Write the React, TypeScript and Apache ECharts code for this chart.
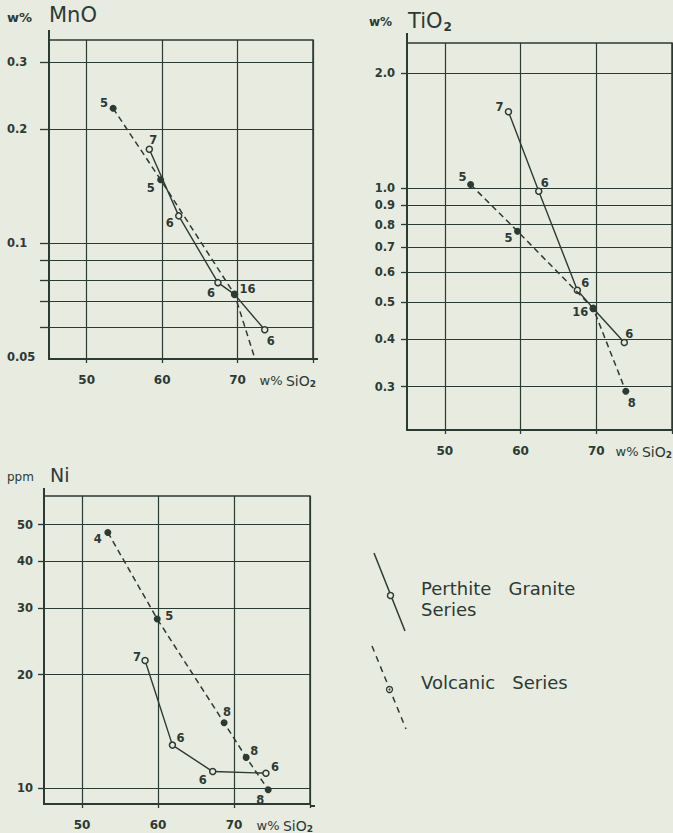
import React, { useEffect, useRef } from "react";
import * as echarts from "echarts";

// ---------- data ----------
const SIO2_TICKS = [50, 60, 70, 80];
const SIO2_LABELS = [50, 60, 70];

// MnO (w%)
const MNO_GRID = [0.3, 0.2, 0.1, 0.09, 0.08, 0.07, 0.06];
const MNO_LABEL_VALUES = [0.3, 0.2, 0.1, 0.05];
const MNO_LABEL_TEXTS = ["0.3", "0.2", "0.1", "0.05"];
const mnoGraniteSiO2 = [58.3, 62.2, 67.4, 69.6, 73.6];
const mnoGraniteMnO = [0.177, 0.118, 0.0786, 0.0732, 0.059];
const mnoGraniteN = ["7", "6", "6", "", "6"];
const mnoVolcanicSiO2 = [53.5, 59.8, 69.6, 74.5];
const mnoVolcanicMnO = [0.227, 0.147, 0.0732, 0.036];
const mnoVolcanicN = ["5", "5", "16", "8"];

// TiO2 (w%)
const TIO_GRID = [2.0, 1.0, 0.9, 0.8, 0.7, 0.6, 0.5, 0.4, 0.3];
const TIO_LABEL_VALUES = [2.0, 1.0, 0.9, 0.8, 0.7, 0.6, 0.5, 0.4, 0.3];
const TIO_LABEL_TEXTS = ["2.0", "1.0", "0.9", "0.8", "0.7", "0.6", "0.5", "0.4", "0.3"];
const tioGraniteSiO2 = [58.4, 62.4, 67.5, 69.6, 73.7];
const tioGraniteTiO2 = [1.585, 0.98, 0.538, 0.482, 0.392];
const tioGraniteN = ["7", "6", "6", "", "6"];
const tioVolcanicSiO2 = [53.4, 59.6, 69.6, 73.9];
const tioVolcanicTiO2 = [1.02, 0.769, 0.482, 0.292];
const tioVolcanicN = ["5", "5", "16", "8"];

// Ni (ppm)
const NI_GRID = [50, 40, 30, 20, 10];
const NI_LABEL_VALUES = [50, 40, 30, 20, 10];
const NI_LABEL_TEXTS = ["50", "40", "30", "20", "10"];
const niGraniteSiO2 = [58.3, 61.9, 67.2, 74.2];
const niGraniteNi = [21.8, 13.0, 11.06, 10.95];
const niGraniteN = ["7", "6", "6", "6"];
const niVolcanicSiO2 = [53.4, 59.9, 68.7, 71.6, 74.5];
const niVolcanicNi = [47.7, 28.1, 14.9, 12.06, 9.9];
const niVolcanicN = ["4", "5", "8", "8", "8"];

// ---------- styling ----------
const BG = "#e8ebe0";
const INK = "#2c3a34";
const FONT = "'DejaVu Sans', Lato, sans-serif";

// label offsets (style, kept apart from data)
const OFF_MNO_G = [[4, -9], [-9, 7], [-7, 10], [0, 0], [6, 11]];
const OFF_MNO_V = [[-9, -5], [-10, 8], [13, -5], [8, 10]];
const OFF_TIO_G = [[-9, -5], [6, -8], [8, -7], [0, 0], [5, -9]];
const OFF_TIO_V = [[-8, -8], [-9, 7], [-13, 4], [6, 12]];
const OFF_NI_G = [[-8, -4], [8, -7], [-10, 8], [9, -6]];
const OFF_NI_V = [[-10, 7], [12, -3], [3, -11], [8, -6], [-8, 10]];

const PANELS = [
  { left: 49, top: 40, width: 264, height: 319, ymin: 0.0494, ymax: 0.344, grid: MNO_GRID, lv: MNO_LABEL_VALUES, lt: MNO_LABEL_TEXTS, labelMargin: 42, labelAlign: "left", tickLen: 9, nameGap: 3, ext: 10 },
  { left: 407, top: 43, width: 265, height: 387, ymin: 0.2309, ymax: 2.403, grid: TIO_GRID, lv: TIO_LABEL_VALUES, lt: TIO_LABEL_TEXTS, labelMargin: 12, labelAlign: "right", tickLen: 6, nameGap: 0, ext: 10 },
  { left: 44, top: 496, width: 266, height: 310, ymin: 9.07, ymax: 59.6, grid: NI_GRID, lv: NI_LABEL_VALUES, lt: NI_LABEL_TEXTS, labelMargin: 11, labelAlign: "right", tickLen: 6, nameGap: 3, ext: 8 },
];

function pts(xs: number[], ys: number[], ns: string[], offs: number[][]) {
  return xs.map((x, i) => ({
    value: [x, ys[i]],
    label: { formatter: ns[i], offset: offs[i] },
  }));
}

function graniteSeries(idx: number, data: any[]) {
  return {
    type: "line",
    xAxisIndex: idx,
    yAxisIndex: idx * 2,
    data,
    symbol: "circle",
    symbolSize: 6,
    z: 3,
    lineStyle: { color: INK, width: 1.4, type: "solid" },
    itemStyle: { color: BG, borderColor: INK, borderWidth: 1.5 },
    label: { show: true, position: "inside", color: INK, fontFamily: FONT, fontWeight: "bold", fontSize: 11.5 },
    clip: true,
  };
}

function volcanicSeries(idx: number, data: any[]) {
  return {
    type: "line",
    xAxisIndex: idx,
    yAxisIndex: idx * 2,
    data,
    symbol: "circle",
    symbolSize: 7,
    z: 4,
    lineStyle: { color: INK, width: 1.5, type: [6, 4] },
    itemStyle: { color: INK, borderColor: INK, borderWidth: 0 },
    label: { show: true, position: "inside", color: INK, fontFamily: FONT, fontWeight: "bold", fontSize: 11.5 },
    clip: true,
  };
}

function buildOption() {
  const grids = PANELS.map((p) => ({
    left: p.left,
    top: p.top,
    width: p.width,
    height: p.height,
    show: true,
    borderColor: INK,
    borderWidth: 1.5,
    backgroundColor: "transparent",
  }));

  const xAxes = PANELS.map((p, i) => ({
    type: "value",
    gridIndex: i,
    min: 45,
    max: 80,
    axisLine: { show: true, onZero: false, lineStyle: { color: INK, width: 2 } },
    axisTick: { show: true, customValues: SIO2_TICKS, length: 4, lineStyle: { color: INK, width: 1.3 } },
    axisLabel: { customValues: SIO2_LABELS, color: INK, fontFamily: FONT, fontWeight: "bold", fontSize: 12, margin: 15 },
    splitLine: { show: true, lineStyle: { color: INK, width: 1.2 } },
    name: "{a|w%} {b|SiO}{s|2}",
    nameLocation: "end",
    nameGap: p.nameGap,
    nameTextStyle: {
      align: "right",
      verticalAlign: "top",
      padding: [14, 0, 0, 0],
      rich: {
        a: { color: INK, fontFamily: FONT, fontSize: 13 },
        b: { color: INK, fontFamily: FONT, fontSize: 14 },
        s: { color: INK, fontFamily: FONT, fontWeight: "bold", fontSize: 9, padding: [6, 0, 0, 0] },
      },
    },
  }));

  const yAxes: any[] = [];
  PANELS.forEach((p, i) => {
    yAxes.push({
      type: "log",
      gridIndex: i,
      min: p.ymin,
      max: p.ymax,
      position: "left",
      show: false,
    });
    yAxes.push({
      type: "value",
      gridIndex: i,
      min: Math.log10(p.ymin),
      max: Math.log10(p.ymax),
      position: "left",
      offset: 0,
      axisLine: { show: true, onZero: false, lineStyle: { color: INK, width: 2 } },
      axisTick: { show: true, customValues: p.grid.map(Math.log10), length: p.tickLen, lineStyle: { color: INK, width: 1.3 } },
      axisLabel: {
        customValues: p.lv.map(Math.log10),
        color: INK,
        fontFamily: FONT,
        fontWeight: "bold",
        fontSize: 11.5,
        margin: p.labelMargin,
        align: p.labelAlign,
        formatter: (v: number) => {
          const k = p.lv.findIndex((t) => Math.abs(Math.log10(t) - v) < 1e-4);
          return k >= 0 ? p.lt[k] : "";
        },
      },
      splitLine: { show: true, lineStyle: { color: INK, width: 1.2 } },
    });
  });

  const series = [
    graniteSeries(0, pts(mnoGraniteSiO2, mnoGraniteMnO, mnoGraniteN, OFF_MNO_G)),
    volcanicSeries(0, pts(mnoVolcanicSiO2, mnoVolcanicMnO, mnoVolcanicN, OFF_MNO_V)),
    graniteSeries(1, pts(tioGraniteSiO2, tioGraniteTiO2, tioGraniteN, OFF_TIO_G)),
    volcanicSeries(1, pts(tioVolcanicSiO2, tioVolcanicTiO2, tioVolcanicN, OFF_TIO_V)),
    graniteSeries(2, pts(niGraniteSiO2, niGraniteNi, niGraniteN, OFF_NI_G)),
    volcanicSeries(2, pts(niVolcanicSiO2, niVolcanicNi, niVolcanicN, OFF_NI_V)),
  ];

  const txt = (x: number, y: number, text: string, size: number, weight = "bold") => ({
    type: "text",
    x,
    y,
    style: { text, fill: INK, font: `${weight} ${size}px ${FONT}`, textVerticalAlign: "middle" },
  });

  // axis lines poking a little past the frame, as drawn in the original
  const axisExt: any[] = [];
  PANELS.forEach((p) => {
    axisExt.push({ type: "line", shape: { x1: p.left, y1: p.top - p.ext, x2: p.left, y2: p.top }, style: { stroke: INK, lineWidth: 2 } });
    axisExt.push({ type: "line", shape: { x1: p.left + p.width, y1: p.top + p.height, x2: p.left + p.width + 5, y2: p.top + p.height }, style: { stroke: INK, lineWidth: 2 } });
  });

  const graphic = [
    ...axisExt,
    // panel titles
    txt(7, 17, "w%", 13, "bold"),
    txt(49, 15, "MnO", 21, "normal"),
    txt(369, 22, "w%", 12, "bold"),
    {
      type: "text",
      x: 408,
      y: 21,
      style: {
        text: "{m|TiO}{s|2}",
        fill: INK,
        textVerticalAlign: "middle",
        rich: {
          m: { fill: INK, fontFamily: FONT, fontSize: 21 },
          s: { fill: INK, fontFamily: FONT, fontWeight: "bold", fontSize: 12, padding: [11, 0, 0, 1] },
        },
      },
    },
    txt(7, 477, "ppm", 12, "normal"),
    txt(50, 475, "Ni", 19, "normal"),
    // legend
    { type: "line", shape: { x1: 374, y1: 553, x2: 405, y2: 631 }, style: { stroke: INK, lineWidth: 1.5 } },
    { type: "circle", shape: { cx: 390.5, cy: 595.5, r: 3 }, style: { fill: BG, stroke: INK, lineWidth: 1.5 } },
    txt(421, 588, "Perthite   Granite", 18, "normal"),
    txt(421, 609, "Series", 18, "normal"),
    { type: "line", shape: { x1: 372, y1: 646, x2: 406, y2: 729 }, style: { stroke: INK, lineWidth: 1.5, lineDash: [6, 5] } },
    { type: "circle", shape: { cx: 389.5, cy: 689.5, r: 3 }, style: { fill: BG, stroke: INK, lineWidth: 1.3 } },
    { type: "circle", shape: { cx: 389.5, cy: 689.5, r: 1 }, style: { fill: INK } },
    txt(421, 682, "Volcanic   Series", 18, "normal"),
  ];

  return {
    animation: false,
    backgroundColor: BG,
    grid: grids,
    xAxis: xAxes,
    yAxis: yAxes,
    series,
    graphic,
  };
}

export default function App() {
  const ref = useRef<HTMLDivElement>(null);
  useEffect(() => {
    if (!ref.current) return;
    const chart = echarts.init(ref.current, undefined, { renderer: "svg" });
    chart.setOption(buildOption() as any);
    return () => chart.dispose();
  }, []);
  return (
    <div
      ref={ref}
      style={{ position: "absolute", left: 0, top: 0, width: 673, height: 833, background: BG }}
    />
  );
}
